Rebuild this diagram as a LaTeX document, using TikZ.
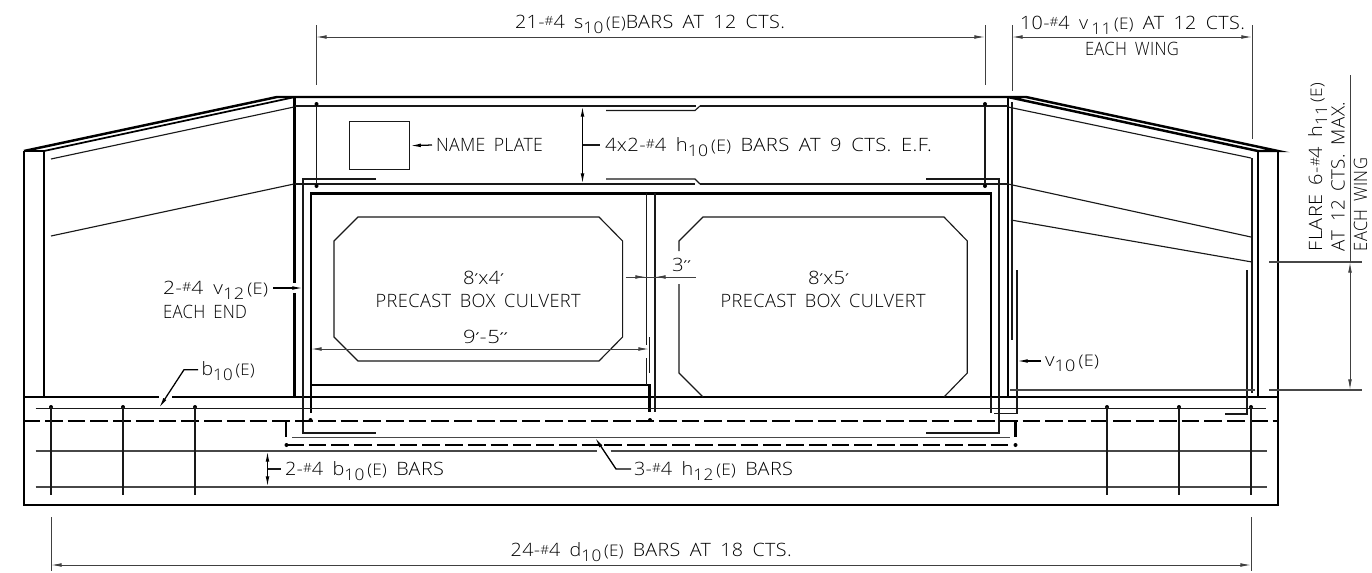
\documentclass[tikz,border=0pt]{standalone}
\usepackage{fontspec}
\usepackage{graphicx}
\usetikzlibrary{arrows.meta}
\setmainfont[LetterSpace=2,WordSpace=1.7]{Open Sans Light}
\newfontfamily\primefont{DejaVu Sans}
\newcommand{\fitw}[2]{\resizebox{\dimexpr#1pt*3/4\relax}{\height}{#2}}
\newcommand{\sbs}[1]{{\fontsize{12}{12}\selectfont\raisebox{-3.8pt}{#1}}}
\newcommand{\ee}{{\fontsize{12}{12}\selectfont\,(E)}}
\newcommand{\nr}{\raisebox{1.8pt}{\fontsize{9.5}{9.5}\selectfont\#}}
\newcommand{\pr}{{\primefont\fontsize{11}{11}\selectfont ′}}
\newcommand{\ppr}{{\primefont\fontsize{11}{11}\selectfont ′′}}
\tikzset{
 heavy/.style={line width=1.85pt,black},
 thinl/.style={line width=0.85pt,black!90},
 medl/.style={line width=0.95pt,black},
 grayl/.style={line width=1.15pt,black!72},
 diml/.style={line width=0.7pt,black!75},
 dashl/.style={line width=1.85pt,black,dash pattern=on 13.3pt off 3.75pt},
 tip/.tip={Latex[length=8pt,width=2.8pt]},
 lab/.style={anchor=base west,inner sep=0pt,outer sep=0pt,font=\fontsize{13.8}{13.8}\selectfont,text=black},
 vlab/.style={lab,rotate=90},
 dotc/.style={circle,fill=black,inner sep=0pt,minimum size=3pt},
}
\begin{document}
\begin{tikzpicture}[x=0.75pt,y=-0.75pt]
\useasboundingbox (0,0) rectangle (1372,572);
% concrete outline
\draw[heavy] (24,397) -- (159,397) (172,397) -- (1278,397);
\draw[heavy] (1278,151) -- (1278,505) -- (24,505) -- (24,151);
\draw[heavy] (44,151) -- (44,397) (1258,151) -- (1258,397);
\draw[heavy] (24,151) -- (277,97) -- (1026,97) -- (1278,151) -- (1258,151) -- (1008,97);
\draw[heavy,line width=1.3pt] (24,151) -- (44,151) -- (295,97);
\draw[heavy] (294.5,97) -- (294.5,283) (294.5,293) -- (294.5,397);
\draw[heavy] (1008,97) -- (1008,397);
% inner box
\draw[heavy] (311,413) -- (311,193.5) -- (991,193.5) -- (991,397);
\draw[heavy] (311,385) -- (649.5,385) -- (649.5,412);
\draw[thinl] (991,397) -- (991,412.7);
% wing bars
\draw[thinl] (51,159) -- (294,107) (51,236) -- (294,184);
\draw[thinl] (1251,158) -- (1008,107) (1251,237) -- (1008,184) (1252,262) -- (1011,220);
\draw[thinl] (1252,158) -- (1252,393);
\draw[thinl] (1225,414) -- (1247,414) -- (1247,270);
\draw[thinl] (1017,270) -- (1017,413.5) -- (994,413.5);
\draw[thinl] (1012,102) -- (1012,340);
\draw[grayl] (1010,390) -- (1255,390);
% horizontal top bars
\draw[thinl] (295,106) -- (696,106) (700,106) -- (1008,106);
\draw[thinl] (606,110.5) -- (695,110.5) -- (700,106);
\draw[thinl] (295,184) -- (695,184) (700,184) -- (1008,184);
\draw[thinl] (606,179) -- (695,179) -- (700,184);
% C bars
\draw[thinl] (376,179) -- (303,179) -- (303,433) -- (376,433);
\draw[thinl] (926,179) -- (999,179) -- (999,433) -- (926,433);
% stems
\draw[thinl,line width=1pt] (316.5,104) -- (316.5,186) (985,104) -- (985,186);
\node[dotc] (d1) at (316.5,104) {}; \node[dotc] (d2) at (316.5,186) {};
\node[dotc] (d3) at (985,104) {}; \node[dotc] (d4) at (985,186) {};
% wall
\draw[thinl] (646.7,193) -- (646.7,345) (646.7,358) -- (646.7,385) (655,193) -- (655,412);
\draw[thinl] (649.3,337) -- (649.3,373);
% culverts
\draw[thinl] (358,217) -- (599,217) -- (622.6,241) -- (622.6,337) -- (599,361) -- (358,361) -- (334,337) -- (334,241) -- cycle;
\draw[thinl] (679,251) -- (679,241) -- (703,217) -- (944,217) -- (967.3,241) -- (967.3,373) -- (944,397);
\draw[thinl] (703,397) -- (679,373) -- (679,284);
% footing
\draw[thinl] (35.6,408.5) -- (1266,408.5);
\draw[dashl,dash phase=1.3pt] (24,421) -- (1278,421);
\draw[heavy] (286.2,421) -- (286.2,437) (1015.5,421) -- (1015.5,437);
\draw[dashl] (286,445) -- (1009,445);
\node[dotc] (d5) at (286.5,445) {}; \node[dotc] (d6) at (1015.5,445) {};
\node[dotc] (d7) at (310.5,420) {}; \node[dotc] (d8) at (650,420) {};
\draw[grayl] (292,437.5) -- (1010,437.5);
\draw[grayl] (35.6,451) -- (597,451) (610.7,451) -- (1267,451);
\draw[grayl] (35.6,487) -- (1267,487);
\foreach \x/\n in {51/a,123/b,195/c,1107/e,1179/f,1251/g}{
  \node[dotc] (top\n) at (\x,407) {};
  \draw[thinl] (top\n.center) -- (\x,495);
}
% name plate
\node[draw,thinl,minimum width=45.4pt,minimum height=36.2pt,inner sep=0pt,anchor=north west] (plate) at (348.5,121) {};
% dimension lines
\coordinate (e1a) at (316,25); \coordinate (e1b) at (316,85);
\coordinate (e2a) at (985,25); \coordinate (e2b) at (985,85);
\coordinate (e3a) at (1012,25); \coordinate (e3b) at (1012,91);
\coordinate (e4a) at (1252,25); \coordinate (e4b) at (1252,139);
\draw[diml] (e1a) -- (e1b) (e2a) -- (e2b) (e3a) -- (e3b) (e4a) -- (e4b);
\draw[diml,tip-tip] (316,37) -- (985,37);
\draw[diml,tip-tip] (1012,37) -- (1252,37);
\draw[diml] (51,517) -- (51,571) (1251,517) -- (1251,571);
\draw[diml,tip-tip] (51,565) -- (1251,565);
\draw[grayl] (1269,262) -- (1362,262) (1269,390) -- (1362,390);
\draw[diml,-tip] (1350,300) -- (1350,262);
\draw[diml] (1350,75) -- (1350,262);
\draw[diml,-tip] (1350,300) -- (1350,390);
\draw[medl,tip-tip] (582.5,106) -- (582.5,184);
\draw[thinl] (582.5,145) -- (600,145);
\draw[medl,tip-tip] (267.5,451) -- (267.5,487);
\draw[thinl] (267.5,469) -- (281,469);
% 3 inch dim
\draw[diml] (625.7,277) -- (696,277);
\draw[diml,-tip] (628,277) -- (646,277);
\draw[diml,-tip] (673,277) -- (655,277);
% 9-5 dim
\draw[diml,tip-tip] (311,349) -- (649,349);
% labels
\node[lab] (t1) at (515,28) {\fitw{270}{21-\nr4 s\sbs{10}\ee BARS AT 12 CTS.}};
\node[lab] (t2) at (1020,29) {\fitw{225}{10-\nr4 v\,\sbs{11}\ee\ AT 12 CTS.}};
\node[lab] (t3) at (1085,55) {\fitw{94}{EACH WING}};
\node[lab] (t4) at (436,151) {\fitw{107}{NAME PLATE}};
\node[lab] (t5) at (605,151) {\fitw{327}{4x2-\nr4 h\sbs{10}\ee\ BARS AT 9 CTS. E.F.}};
\node[lab] (t6) at (163,294) {\fitw{105}{2-\nr4 v\sbs{12}\ee}};
\node[lab] (t7) at (163,318) {\fitw{84}{EACH END}};
\node[lab] (t8) at (463,284) {\fitw{41}{8\pr x4\pr}};
\node[lab] (t9) at (375.7,307) {\fitw{205}{PRECAST BOX CULVERT}};
\node[lab] (t10) at (720.7,307) {\fitw{205}{PRECAST BOX CULVERT}};
\node[lab] (t11) at (808,284) {\fitw{41}{8\pr x5\pr}};
\node[lab] (t12) at (672,271.7) {\fitw{19}{3\ppr}};
\node[lab] (t13) at (463,343) {\fitw{45}{9\pr-5\ppr}};
\node[lab] (t14) at (201.7,375.7) {\fitw{53}{b\sbs{10}\ee}};
\node[lab] (t15) at (285,475) {\fitw{159}{2-\nr4 b\sbs{10}\ee\ BARS}};
\node[lab] (t16) at (634,475) {\fitw{159}{3-\nr4 h\sbs{12}\ee\ BARS}};
\node[lab] (t17) at (510.7,556.7) {\fitw{281}{24-\nr4 d\sbs{10}\ee\ BARS AT 18 CTS.}};
\node[lab] (t18) at (1045,366) {\fitw{54}{v\sbs{10}\ee}};
\node[vlab] (t19) at (1322,251) {\fitw{168}{FLARE 6-\nr4 h\sbs{11}\ee}};
\node[vlab] (t20) at (1344.7,251) {\fitw{149}{AT 12 CTS. MAX.}};
\node[vlab] (t21) at (1367,251) {\fitw{93}{EACH WING}};
% leaders
\coordinate (l1) at (432,145);
\draw[medl,-tip] (l1) -- (plate.east);
\coordinate (l2) at (273,288); \coordinate (l2t) at (303,288);
\draw[medl,-tip] (l2) -- (l2t);
\coordinate (l3a) at (198,369.7); \coordinate (l3b) at (184,369.7); \coordinate (l3c) at (159,408);
\draw[medl,-tip] (l3a) -- (l3b) -- (l3c);
\coordinate (l4a) at (631,469); \coordinate (l4b) at (616,469); \coordinate (l4c) at (595,437.5);
\draw[medl,-tip] (l4a) -- (l4b) -- (l4c);
\coordinate (l5a) at (1041,361); \coordinate (l5b) at (1017,361);
\draw[medl,-tip] (l5a) -- (l5b);
\end{tikzpicture}
\end{document}
